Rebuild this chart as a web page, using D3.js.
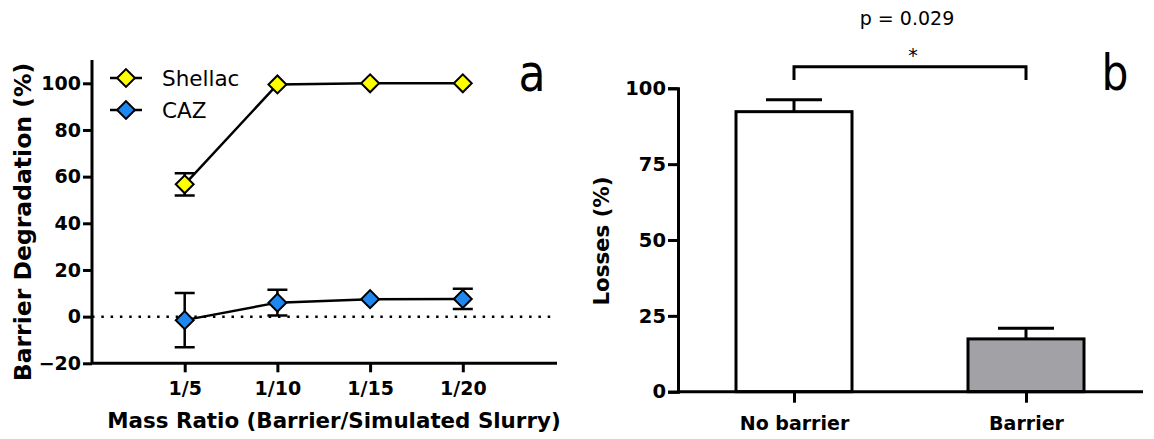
<!DOCTYPE html>
<html>
<head>
<meta charset="utf-8">
<script src="https://cdn.jsdelivr.net/npm/d3@7"></script>
<style>
  body { margin: 0; background: #fff; }
  svg text { font-family: "DejaVu Sans", Arial, sans-serif; }
</style>
</head>
<body>
<div id="chart"></div>
<script>
// Panel a: barrier degradation vs mass ratio
const ratios = ["1/5", "1/10", "1/15", "1/20"];
const shellacMean = [56.7, 99.5, 100, 100];
const shellacErr = [4.8, 0, 0, 0];
const cazMean = [-1.5, 6, 7.5, 7.6];
const cazErr = [11.6, 5.5, 0, 4.3];
const degTicks = [-20, 0, 20, 40, 60, 80, 100];

// Panel b: losses
const groups = ["No barrier", "Barrier"];
const lossMean = [92.3, 17.4];
const lossErr = [3.9, 3.5];
const lossTicks = [0, 25, 50, 75, 100];
const pLabel = "p = 0.029";

const W = 1154, H = 439;
const FONT = "DejaVu Sans, Arial, sans-serif";
const svg = d3.select("#chart").append("svg").attr("width", W).attr("height", H);

function styleAxis(a, size) {
  a.selectAll("path, line").attr("stroke", "#000").attr("stroke-width", 3);
  a.selectAll("text").attr("font-size", size).attr("font-weight", "bold").attr("fill", "#000")
    .attr("font-family", FONT);
}

// ---------- Panel a ----------
const xa = d3.scaleLinear().domain([0, 5]).range([92, 555.5]);
const ya = d3.scaleLinear().domain([-20, 100]).range([363.3, 83.3]);
const ga = svg.append("g");

// zero reference line
ga.append("line")
  .attr("x1", 92).attr("x2", 557).attr("y1", ya(0)).attr("y2", ya(0))
  .attr("stroke", "#000").attr("stroke-width", 2.5).attr("stroke-dasharray", "2.5,6.8");

const axA = ga.append("g").attr("transform", "translate(92,0)")
  .call(d3.axisLeft(ya).tickValues(degTicks).tickSize(9).tickPadding(2));
axA.select(".domain").attr("d", `M0,${ya(-20)}V60`);
const axAx = ga.append("g").attr("transform", `translate(0,${ya(-20)})`)
  .call(d3.axisBottom(xa).tickValues([1, 2, 3, 4]).tickFormat((d, i) => ratios[i]).tickSize(9).tickPadding(9));
axAx.select(".domain").attr("d", "M92,0H557");
styleAxis(axA, 19);
styleAxis(axAx, 19);

const line = d3.line().x((d, i) => xa(i + 1)).y(d => ya(d));
const marker = d3.symbol().type(d3.symbolSquare).size(160);

function drawSeries(means, errs, fill) {
  ga.append("path").datum(means).attr("d", line)
    .attr("fill", "none").attr("stroke", "#000").attr("stroke-width", 2.5);
  means.forEach((m, i) => {
    const e = errs[i];
    if (e > 0) {
      const x = xa(i + 1);
      ga.append("path")
        .attr("d", `M${x},${ya(m - e)}V${ya(m + e)}M${x - 10},${ya(m + e)}H${x + 10}M${x - 10},${ya(m - e)}H${x + 10}`)
        .attr("stroke", "#000").attr("stroke-width", 2.5).attr("fill", "none");
    }
  });
  ga.selectAll(null).data(means).join("path")
    .attr("transform", (d, i) => `translate(${xa(i + 1)},${ya(d)}) rotate(45)`)
    .attr("d", marker)
    .attr("fill", fill).attr("stroke", "#000").attr("stroke-width", 2);
}
drawSeries(cazMean, cazErr, "#1e88f0");
drawSeries(shellacMean, shellacErr, "#ffff00");

// legend
const legend = [["Shellac", "#ffff00"], ["CAZ", "#1e88f0"]];
legend.forEach(([name, c], i) => {
  const y = 78 + i * 32;
  ga.append("line").attr("x1", 110).attr("x2", 142).attr("y1", y).attr("y2", y)
    .attr("stroke", "#000").attr("stroke-width", 2.5);
  ga.append("path").attr("transform", `translate(126,${y}) rotate(45)`)
    .attr("d", marker)
    .attr("fill", c).attr("stroke", "#000").attr("stroke-width", 2);
  ga.append("text").attr("x", 162).attr("y", y + 8).attr("font-size", 21.5).text(name);
});

ga.append("text").attr("x", 334).attr("y", 428).attr("text-anchor", "middle")
  .attr("font-size", 21.4).attr("font-weight", "bold").text("Mass Ratio (Barrier/Simulated Slurry)");
ga.append("text").attr("transform", "translate(31,222) rotate(-90)").attr("text-anchor", "middle")
  .attr("font-size", 23.5).attr("font-weight", "bold").text("Barrier Degradation (%)");
ga.append("text").attr("transform", "translate(532,91) scale(0.85,1)").attr("text-anchor", "middle")
  .attr("font-family", "Open Sans, DejaVu Sans, sans-serif").attr("font-size", 52).text("a");

// ---------- Panel b ----------
const xb = d3.scaleBand().domain(groups).range([678, 1142]).paddingInner(0.5).paddingOuter(0.25);
const yb = d3.scaleLinear().domain([0, 100]).range([391.7, 88.3]);
const gb = svg.append("g");

gb.selectAll("rect").data(groups).join("rect")
  .attr("x", d => xb(d)).attr("width", xb.bandwidth())
  .attr("y", (d, i) => yb(lossMean[i])).attr("height", (d, i) => yb(0) - yb(lossMean[i]))
  .attr("fill", (d, i) => i === 0 ? "#fff" : "#a2a2a6")
  .attr("stroke", "#000").attr("stroke-width", 3);

groups.forEach((g, i) => {
  const x = xb(g) + xb.bandwidth() / 2;
  const top = yb(lossMean[i] + lossErr[i]);
  gb.append("path").attr("d", `M${x},${yb(lossMean[i])}V${top}M${x - 28},${top}H${x + 28}`)
    .attr("stroke", "#000").attr("stroke-width", 3).attr("fill", "none");
});

const axB = gb.append("g").attr("transform", "translate(678,0)")
  .call(d3.axisLeft(yb).tickValues(lossTicks).tickSize(10).tickPadding(2));
const cx0 = xb(groups[0]) + xb.bandwidth() / 2, cx1 = xb(groups[1]) + xb.bandwidth() / 2;
const axBx = gb.append("g").attr("transform", `translate(0,${yb(0)})`)
  .call(d3.axisBottom(d3.scalePoint().domain(groups).range([cx0, cx1]))
    .tickSize(11).tickPadding(14));
axBx.select(".domain").attr("d", "M678,0H1143");
styleAxis(axB, 19.5);
styleAxis(axBx, 19);

// significance bracket
gb.append("path").attr("d", `M${cx0},80V66.7H${cx1}V80`)
  .attr("stroke", "#000").attr("stroke-width", 3).attr("fill", "none");
gb.append("text").attr("x", (cx0 + cx1) / 2 + 3).attr("y", 62).attr("text-anchor", "middle")
  .attr("font-size", 19).text("*");
gb.append("text").attr("x", (cx0 + cx1) / 2 - 3).attr("y", 25).attr("text-anchor", "middle")
  .attr("font-size", 19).text(pLabel);

gb.append("text").attr("transform", "translate(609,241) rotate(-90)").attr("text-anchor", "middle")
  .attr("font-size", 21.3).attr("font-weight", "bold").text("Losses (%)");
gb.append("text").attr("transform", "translate(1115,90) scale(0.85,1)").attr("text-anchor", "middle")
  .attr("font-family", "Open Sans, DejaVu Sans, sans-serif").attr("font-size", 50).text("b");
</script>
</body>
</html>
